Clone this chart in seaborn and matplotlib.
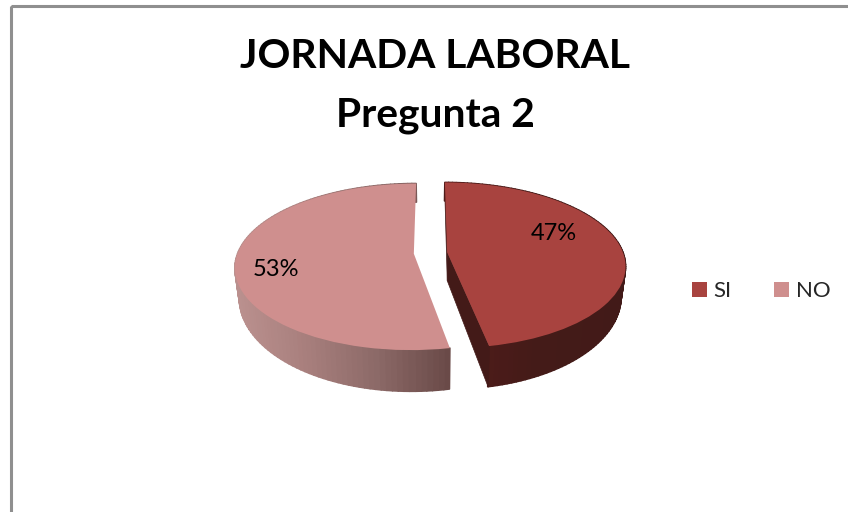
import numpy as np
import matplotlib
matplotlib.use('Agg')
import matplotlib.pyplot as plt
import seaborn as sns
from matplotlib.collections import PolyCollection
from matplotlib.patches import Rectangle
from matplotlib.transforms import Transform

labels = ['SI', 'NO']
values = [47, 53]
title_lines = ['JORNADA LABORAL', 'Pregunta 2']

colors = ['#a8433f', '#cf8f8e']
no_wall = ['#bb918f', '#a87f7d', '#8c6a68', '#6a4a48']
si_wall = ['#521c1a', '#441b18', '#421a18']

sns.set_theme(style='white')
plt.rcParams['font.family'] = ['Lato', 'DejaVu Sans']

CX, CY = 430.5, 253
RX, RY, PERSP = 176, 81, 0.157
RX2, RY2, DROP = 172, 92, 28


def project(x, y, rx=RX, ry=RY, drop=0):
    w = 1 + PERSP * y
    return CX + rx * x / w, CY - ry * y / w + drop


class Tilt(Transform):
    # circle of the pie -> tilted disc, in pixel coordinates
    input_dims = output_dims = 2
    is_affine = False
    has_inverse = False

    def transform_non_affine(self, values):
        v = np.asarray(values)
        return np.column_stack(project(v[:, 0], v[:, 1]))


def wall_quads(xa, ya, xb, yb):
    x1, y1 = project(xa, ya)
    x2, y2 = project(xa, ya, RX2, RY2, DROP)
    x3, y3 = project(xb, yb, RX2, RY2, DROP)
    x4, y4 = project(xb, yb)
    return np.array([[x1, y1], [x2, y2], [x3, y3], [x4, y4]]).transpose(2, 0, 1)


fig, ax = plt.subplots(figsize=(8.48, 5.12), dpi=100)
fig.subplots_adjust(0, 0, 1, 1)

wedges, _, pcts = ax.pie(values, colors=colors, explode=[0.095, 0.095], startangle=90,
                         counterclock=False, autopct='%1.0f%%', frame=True)
ax.set_aspect('auto')
ax.set_xlim(0, 848)
ax.set_ylim(512, 0)
ax.axis('off')

tilt = Tilt() + ax.transData
for w in wedges:
    w.set_transform(tilt)
    w.set_zorder(5)
    w.set_linewidth(0)

for w, pal in zip(wedges, [si_wall, no_wall]):
    t = np.radians(np.linspace(w.theta1, w.theta2, 120))
    xs = w.center[0] + w.r * np.cos(t)
    ys = w.center[1] + w.r * np.sin(t)
    quads = wall_quads(xs[:-1], ys[:-1], xs[1:], ys[1:])
    order = np.argsort(-ys[:-1])
    shade = sns.blend_palette(pal, 256)
    mid = quads[:, :, 0].mean(axis=1)
    idx = ((mid - mid.min()) / (mid.max() - mid.min()) * 255).astype(int)
    cols = [shade[i] for i in idx[order]]
    ax.add_collection(PolyCollection(quads[order], facecolors=cols, edgecolors=cols,
                                     linewidths=1.2, zorder=3))

# cut faces of the SI slice, the only ones seen from the camera
si = wedges[0]
for ang in [si.theta1, si.theta2]:
    a = np.radians(ang)
    xa = np.array([si.center[0]])
    ya = np.array([si.center[1]])
    quad = wall_quads(xa, ya, xa + si.r * np.cos(a), ya + si.r * np.sin(a))
    ax.add_collection(PolyCollection(quad, facecolors='#431a18', edgecolors='#431a18',
                                     linewidths=0.5, zorder=4))

ax.add_patch(Rectangle((11, 6), 900, 600, fill=False, edgecolor='#8f8f8f', lw=2.2, zorder=1))

pcts[0].set_position((554, 234))
pcts[1].set_position((276, 269))
for p in pcts:
    p.set_fontsize(17)
    p.set_color('black')
    p.set_zorder(6)

ax.text(435, 57, title_lines[0], ha='center', va='center', fontsize=29.3, fontweight='bold', color='black')
ax.text(435, 115, title_lines[1], ha='center', va='center', fontsize=29.3, fontweight='bold', color='black')

ax.legend(wedges, labels, ncol=2, frameon=False, loc='center left',
          bbox_to_anchor=(683 / 848, 1 - 291 / 512), bbox_transform=fig.transFigure,
          fontsize=16, handlelength=0.68, handleheight=0.68, handletextpad=0.3,
          columnspacing=1.9, borderpad=0, borderaxespad=0.4)

fig.savefig('out.png', dpi=100)
